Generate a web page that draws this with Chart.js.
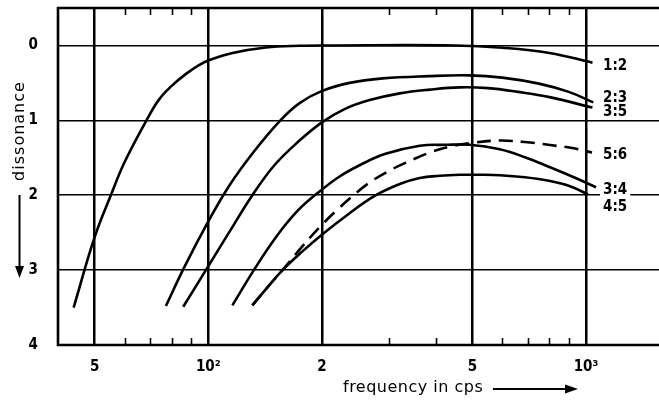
<!DOCTYPE html>
<html>
<head>
<meta charset="utf-8">
<script src="https://cdn.jsdelivr.net/npm/chart.js@4"></script>
<style>
  html, body { margin: 0; padding: 0; background: #fff; }
  #chart { display: block; }
</style>
</head>
<body>
<canvas id="chart" width="659" height="401"></canvas>
<script>
(() => {

  // Axis ticks
  const xTicks = [50, 100, 200, 500, 1000];
  const xTickLabels = ['5', '10\u00B2', '2', '5', '10\u00B3'];
  const xMinorTicks = [60, 70, 80, 90, 300, 400, 600, 700, 800, 900];
  const yTicks = [0, 1, 2, 3, 4];

  // Curves (frequency in cps, dissonance)
  const ratioNames = ['1:2', '2:3', '3:5', '5:6', '3:4', '4:5'];

  const freq12 = [44, 50, 55.2, 60, 68.6, 74.1, 80.4, 87.3, 94.7, 100, 116, 142, 174, 210, 450, 600, 800, 1040];
  const diss12 = [3.5, 2.56, 2, 1.56, 1, 0.72, 0.53, 0.38, 0.26, 0.2, 0.1, 0.027, 0.004, 0, 0, 0.03, 0.1, 0.23];

  const freq23 = [77.2, 86.4, 100, 113.7, 132.4, 155.2, 174.4, 199.4, 236.6, 289.4, 381, 492, 600, 750, 900, 1045];
  const diss23 = [3.48, 2.96, 2.35, 1.87, 1.41, 1.0, 0.77, 0.61, 0.5, 0.44, 0.41, 0.4, 0.43, 0.51, 0.62, 0.76];

  const freq35 = [85.8, 98.8, 113.7, 130.8, 149.6, 174.4, 199.4, 229.5, 267.3, 321.2, 385.8, 463.3, 550, 660, 800, 1040];
  const diss35 = [3.49, 2.99, 2.49, 2.0, 1.6, 1.27, 1.03, 0.85, 0.73, 0.64, 0.59, 0.56, 0.57, 0.62, 0.69, 0.83];

  const freq56 = [130.8, 143.4, 157.2, 177.6, 199.4, 219.9, 241, 267.3, 302.1, 335.1, 385.8, 435.8, 498.4, 591.4, 689, 803, 918, 1037];
  const diss56 = [3.47, 3.23, 3.0, 2.68, 2.4, 2.19, 2.01, 1.83, 1.67, 1.56, 1.43, 1.35, 1.3, 1.27, 1.29, 1.33, 1.37, 1.43];

  const freq34 = [115.8, 131.6, 150.5, 172.2, 197, 222.6, 251.5, 293, 362.8, 422.7, 492, 591, 689, 803, 935, 1063];
  const diss34 = [3.47, 3.01, 2.57, 2.21, 1.95, 1.75, 1.6, 1.45, 1.34, 1.327, 1.327, 1.387, 1.493, 1.627, 1.767, 1.893];

  const freq45 = [130.8, 143.4, 157.2, 176.5, 199.4, 233.8, 275.6, 321.2, 362.8, 410, 463.3, 523.3, 591.4, 689, 803, 907, 1012];
  const diss45 = [3.47, 3.23, 3.0, 2.76, 2.53, 2.26, 2.01, 1.85, 1.77, 1.74, 1.727, 1.727, 1.733, 1.76, 1.81, 1.88, 1.99];

  const curveFreqs = [freq12, freq23, freq35, freq56, freq34, freq45];
  const curveDiss = [diss12, diss23, diss35, diss56, diss34, diss45];
  const curveDashed = [false, false, false, true, false, false];

  // label vertical nudges (px) relative to curve end
  const labelNudge = [2, -5, 4, 2, 2, 12];

  const fontCond = "'DejaVu Sans Condensed', 'DejaVu Sans', sans-serif";
  const fontWide = "'DejaVu Sans', sans-serif";

  const datasets = ratioNames.map((name, i) => ({
    label: name,
    data: curveFreqs[i].map((f, j) => ({ x: f, y: curveDiss[i][j] })),
    borderColor: '#000',
    borderWidth: 2.6,
    borderDash: curveDashed[i] ? [14, 8] : [],
    pointRadius: 0,
    fill: false,
    tension: 0.4
  }));

  const decorations = {
    id: 'decorations',
    afterDatasetsDraw(chart) {
      const ctx = chart.ctx;
      const area = chart.chartArea;
      const xs = chart.scales.x;
      const ys = chart.scales.y;

      ctx.save();
      ctx.strokeStyle = '#000';
      ctx.fillStyle = '#000';

      // frame: left, top, bottom
      ctx.lineWidth = 2.6;
      ctx.beginPath();
      ctx.moveTo(area.right, area.top);
      ctx.lineTo(area.left, area.top);
      ctx.lineTo(area.left, area.bottom);
      ctx.lineTo(area.right, area.bottom);
      ctx.stroke();

      // minor ticks, inward on top and bottom
      ctx.lineWidth = 1.6;
      ctx.beginPath();
      for (const v of xMinorTicks) {
        const px = Math.round(xs.getPixelForValue(v)) + 0.5;
        ctx.moveTo(px, area.top);
        ctx.lineTo(px, area.top + 7);
        ctx.moveTo(px, area.bottom);
        ctx.lineTo(px, area.bottom - 7);
      }
      ctx.stroke();

      // ratio labels at the curve ends
      ctx.font = "bold 15px " + fontCond;
      ctx.textBaseline = 'middle';
      ctx.textAlign = 'left';
      const lx = xs.getPixelForValue(1000) + 17;
      ratioNames.forEach((name, i) => {
        const d = curveDiss[i];
        const ly = ys.getPixelForValue(d[d.length - 1]) + labelNudge[i];
        const w = ctx.measureText(name).width;
        ctx.fillStyle = '#fff';
        ctx.fillRect(lx - 3, ly - 7, w + 6, 14);
        ctx.fillStyle = '#000';
        ctx.fillText(name, lx, ly + 1);
      });

      // y title with downward arrow
      ctx.save();
      ctx.translate(20, 131);
      ctx.rotate(-Math.PI / 2);
      ctx.font = "16px " + fontWide;
      ctx.letterSpacing = '1px';
      ctx.textAlign = 'center';
      ctx.textBaseline = 'middle';
      ctx.fillText('dissonance', 0, 0);
      ctx.restore();

      ctx.lineWidth = 2;
      ctx.beginPath();
      ctx.moveTo(19.5, 195);
      ctx.lineTo(19.5, 268);
      ctx.stroke();
      ctx.beginPath();
      ctx.moveTo(15, 266);
      ctx.lineTo(24, 266);
      ctx.lineTo(19.5, 278);
      ctx.closePath();
      ctx.fill();

      // x title with arrow
      ctx.font = "16px " + fontWide;
      ctx.letterSpacing = '0.5px';
      ctx.textAlign = 'left';
      ctx.textBaseline = 'middle';
      ctx.fillText('frequency in cps', 343, 388);
      ctx.letterSpacing = '0px';
      ctx.beginPath();
      ctx.moveTo(493, 389);
      ctx.lineTo(568, 389);
      ctx.stroke();
      ctx.beginPath();
      ctx.moveTo(565, 384.5);
      ctx.lineTo(578, 389);
      ctx.lineTo(565, 393.5);
      ctx.closePath();
      ctx.fill();

      ctx.restore();
    }
  };

  new Chart(document.querySelector('#chart'), {
    type: 'line',
    data: { datasets },
    plugins: [decorations],
    options: {
      responsive: false,
      animation: false,
      devicePixelRatio: 1,
      layout: { padding: { top: 8, right: 0, left: 0, bottom: 0 } },
      plugins: {
        legend: { display: false },
        tooltip: { enabled: false }
      },
      scales: {
        x: {
          type: 'logarithmic',
          min: 40,
          max: 1560,
          afterBuildTicks: (s) => { s.ticks = xTicks.map(v => ({ value: v })); },
          afterFit: (s) => { s.height = 56; s.paddingLeft = 0; s.paddingRight = 0; },
          grid: { color: '#000', lineWidth: 2.5, drawTicks: false },
          border: { display: false },
          ticks: {
            autoSkip: false,
            maxRotation: 0,
            padding: 13,
            color: '#000',
            font: { family: fontCond, size: 15, weight: 'bold' },
            callback: (v, i) => xTickLabels[i]
          }
        },
        y: {
          type: 'linear',
          min: -0.5,
          max: 4,
          reverse: true,
          afterBuildTicks: (s) => { s.ticks = yTicks.map(v => ({ value: v })); },
          afterFit: (s) => { s.width = 58; s.paddingTop = 0; s.paddingBottom = 0; },
          grid: { color: '#000', lineWidth: 1.6, drawTicks: false },
          border: { display: false },
          ticks: {
            padding: 20,
            color: '#000',
            font: { family: fontCond, size: 15, weight: 'bold' },
            callback: (v) => String(v)
          }
        }
      }
    }
  });

})();
</script>
</body>
</html>
